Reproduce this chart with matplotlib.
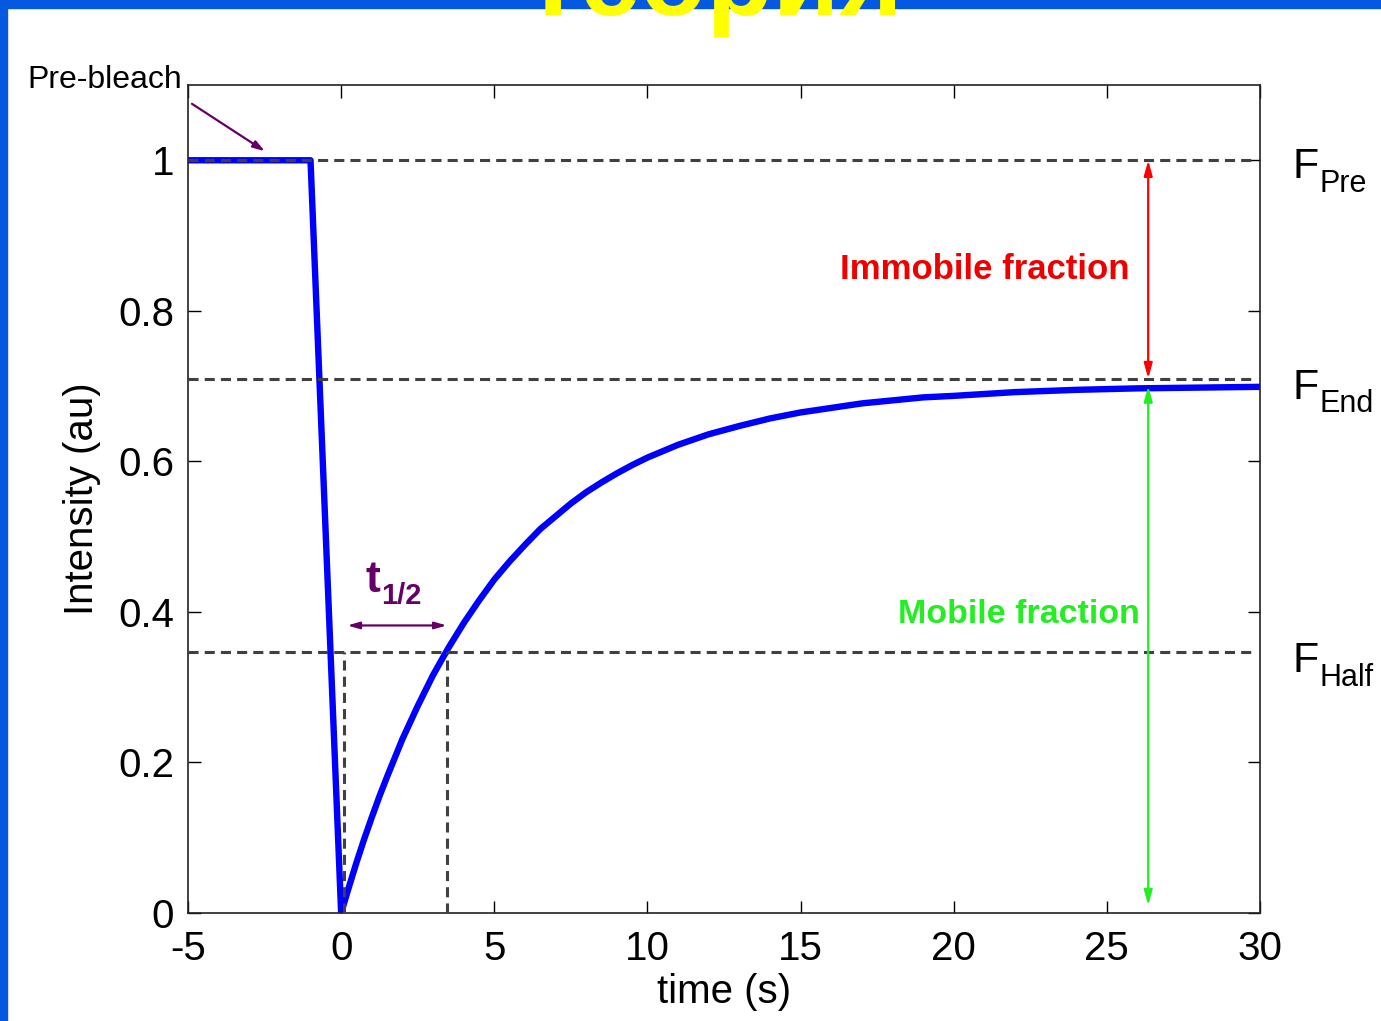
import matplotlib
matplotlib.use("Agg")
import matplotlib.pyplot as plt
from matplotlib.patches import Rectangle

plt.rcParams['font.family'] = ['Liberation Sans', 'DejaVu Sans']
plt.rcParams['axes.unicode_minus'] = False

# ---- data ----
time_s = [-5, -1, 0, 0.25, 0.5, 0.75, 1, 1.25, 1.5, 1.75, 2, 2.5, 3, 3.5, 4,
          4.5, 5, 5.5, 6, 6.5, 7, 7.5, 8, 8.5, 9, 9.5, 10, 11, 12, 13, 14,
          15, 16, 17, 18, 19, 20, 22, 24, 26, 28, 30]
intensity = [1.0, 1.0, 0.0, 0.034, 0.067, 0.098, 0.127, 0.155, 0.181, 0.206,
             0.231, 0.275, 0.316, 0.352, 0.385, 0.415, 0.443, 0.467, 0.489,
             0.510, 0.527, 0.544, 0.559, 0.572, 0.584, 0.595, 0.605, 0.622,
             0.636, 0.647, 0.657, 0.665, 0.671, 0.677, 0.681, 0.685, 0.687,
             0.692, 0.695, 0.697, 0.698, 0.699]

f_pre = 1.0
f_end = 0.71
f_half = 0.347
t_start = 0.1
t_half = 3.45
arrow_x = 26.35

x_ticks = [-5, 0, 5, 10, 15, 20, 25, 30]
y_ticks = [0, 0.2, 0.4, 0.6, 0.8, 1.0]
y_tick_labels = ['0', '0.2', '0.4', '0.6', '0.8', '1']

title_text = 'Теория'
xlabel = 'time (s)'
ylabel = 'Intensity (au)'

# ---- figure ----
fig = plt.figure(figsize=(13.81, 10.21), dpi=100)
fig.patch.set_facecolor('white')
border = '#0558E0'
fig.patches.append(Rectangle((0, 0), 7 / 1381, 1, transform=fig.transFigure,
                             color=border, zorder=0))
fig.patches.append(Rectangle((0, 1 - 8 / 1021), 1, 8 / 1021, transform=fig.transFigure,
                             color=border, zorder=0))
fig.text(712 / 1381, 1 - 15 / 1021, title_text, color='#FFFF00', fontsize=78,
         fontweight='bold', ha='center', va='baseline', zorder=5)

ax = fig.add_axes([188 / 1381, 1 - 913 / 1021, (1260 - 188) / 1381, (913 - 85) / 1021])
ax.set_xlim(-5, 30)
ax.set_ylim(0, 1.1)

dash = dict(color='#404040', lw=2.2, linestyle=(0, (3.3, 2.0)), zorder=3)
ax.plot([-5, 29.85], [f_pre, f_pre], **dash)
ax.plot([-5, 29.85], [f_end, f_end], **dash)
ax.plot([-5, 29.85], [f_half, f_half], **dash)
ax.plot([t_start, t_start], [0, f_half], **dash)
ax.plot([t_half, t_half], [0, f_half], **dash)

ax.plot(time_s, intensity, color='#0000FF', lw=4.6, zorder=2,
        solid_joinstyle='round', solid_capstyle='butt')

# arrows
ax.annotate('', xy=(arrow_x, f_end), xytext=(arrow_x, f_pre),
            arrowprops=dict(arrowstyle='<|-|>,head_length=0.9,head_width=0.25',
                            color='#FF0000', lw=1.6, shrinkA=0, shrinkB=0), zorder=4)
ax.annotate('', xy=(arrow_x, 0.01), xytext=(arrow_x, 0.70),
            arrowprops=dict(arrowstyle='<|-|>,head_length=0.9,head_width=0.25',
                            color='#22EE22', lw=1.6, shrinkA=0, shrinkB=0), zorder=4)
ax.annotate('', xy=(t_half, 0.382), xytext=(0.2, 0.382),
            arrowprops=dict(arrowstyle='<|-|>,head_length=0.7,head_width=0.2',
                            color='#660066', lw=1.6, shrinkA=0, shrinkB=0), zorder=4)
ax.annotate('', xy=(-2.49, 1.012), xytext=(-4.87, 1.075),
            arrowprops=dict(arrowstyle='-|>,head_length=0.7,head_width=0.22',
                            color='#660066', lw=1.6, shrinkA=0, shrinkB=0),
            annotation_clip=False, zorder=4)

# texts
ax.text(25.75, 0.855, 'Immobile fraction', color='#EE0000', fontsize=25,
        fontweight='bold', ha='right', va='center')
ax.text(26.08, 0.397, 'Mobile fraction', color='#22EE22', fontsize=24.5,
        fontweight='bold', ha='right', va='center')
ax.text(0.78, 0.426, 't', color='#660066', fontsize=32, fontweight='bold',
        ha='left', va='baseline')
ax.text(1.3, 0.41, '1/2', color='#660066', fontsize=21, fontweight='bold',
        ha='left', va='baseline')
fig.text(27 / 1381, 1 - 88 / 1021, 'Pre-bleach', fontsize=23, color='black',
         ha='left', va='baseline')

for yb, ys, lab in [(0.976, 0.958, 'Pre'), (0.683, 0.665, 'End'), (0.320, 0.302, 'Half')]:
    ax.text(31.05, yb, 'F', fontsize=31, ha='left', va='baseline', clip_on=False)
    ax.text(31.95, ys, lab, fontsize=22, ha='left', va='baseline', clip_on=False)

ax.set_xticks(x_ticks)
ax.set_yticks(y_ticks)
ax.set_yticklabels(y_tick_labels)
ax.tick_params(direction='in', length=9, width=1, top=True, right=True,
               labelsize=29, pad=10, colors='black')
ax.tick_params(axis='x', pad=12)
for s in ax.spines.values():
    s.set_linewidth(1.2)
    s.set_color('#222222')
ax.set_xlabel(xlabel, fontsize=29, labelpad=4)
ax.set_ylabel(ylabel, fontsize=29, labelpad=12)

fig.savefig('out.png', dpi=100, facecolor='white')
